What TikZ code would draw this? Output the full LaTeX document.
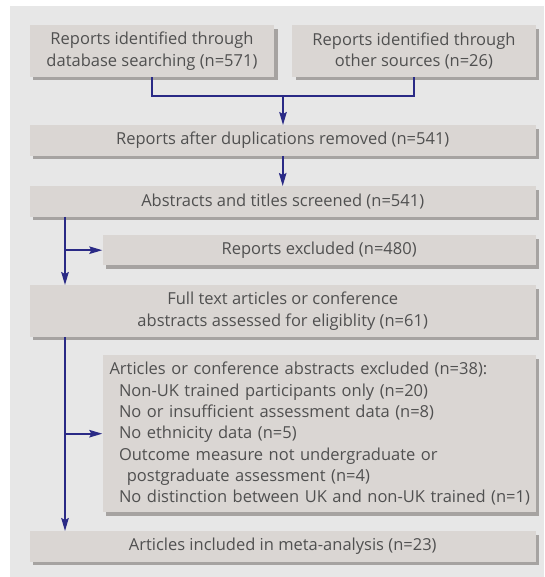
\documentclass[tikz,border=0pt]{standalone}
\usepackage{fontspec}
\setmainfont{Open Sans}
\usetikzlibrary{shadows,arrows.meta,calc}
\definecolor{bgc}{RGB}{231,231,231}
\definecolor{boxc}{RGB}{218,214,211}
\definecolor{shadc}{RGB}{166,163,161}
\definecolor{txtc}{RGB}{80,80,80}
\definecolor{arrc}{RGB}{42,42,134}
\tikzset{
  boxn/.style={rectangle, fill=boxc, text=txtc,
    font=\fontsize{16.5}{21.3}\selectfont, align=center, inner sep=0pt,
    anchor=north west,
    drop shadow={shadow xshift=3.5pt, shadow yshift=-3.5pt, fill=shadc, opacity=1}},
  conn/.style={draw=arrc, line width=1.6pt},
  arr/.style={conn, -{Stealth[length=13pt,width=7.5pt,inset=2pt]}},
}
\begin{document}
\begin{tikzpicture}[x=1pt,y=-1pt]
\useasboundingbox (0,0) rectangle (544,577);
\fill[bgc] (10.4,6) rectangle (544,577);

\node[boxn, minimum width=244.5pt, minimum height=51.7pt] (b1) at (29.5,25)
  {Reports identified through\\database searching (n=571)};
\node[boxn, minimum width=243.5pt, minimum height=51.7pt] (b2) at (292,25)
  {Reports identified through\\other sources (n=26)};
\node[boxn, minimum width=506pt, minimum height=30.5pt] (b3) at (29.5,125)
  {Reports after duplications removed (n=541)};
\node[boxn, minimum width=506pt, minimum height=30.5pt] (b4) at (29.5,186)
  {Abstracts and titles screened (n=541)};
\node[boxn, minimum width=433.2pt, minimum height=30pt] (b5) at (102.3,235)
  {Reports excluded (n=480)};
\node[boxn, minimum width=506pt, minimum height=51.7pt] (b6) at (29.5,285)
  {Full text articles or conference\\abstracts assessed for eligiblity (n=61)};
\node[boxn, minimum width=433.2pt, minimum height=157pt, align=left, text width=419.2pt] (b7) at (102.3,355)
  {\mbox{Articles or conference abstracts excluded (n=38):}\\
   \mbox{\hspace*{9.5pt}Non-UK trained participants only (n=20)}\\
   \mbox{\hspace*{9.5pt}No or insufficient assessment data (n=8)}\\
   \mbox{\hspace*{9.5pt}No ethnicity data (n=5)}\\
   \mbox{\hspace*{9.5pt}Outcome measure not undergraduate or}\\
   \mbox{\hspace*{17.3pt}postgraduate assessment (n=4)}\\
   \mbox{\hspace*{9.5pt}No distinction between UK and non-UK trained (n=1)}};
\node[boxn, minimum width=506pt, minimum height=30.7pt] (b8) at (29.5,531)
  {Articles included in meta-analysis (n=23)};

\coordinate (j) at (283,96);
\coordinate (s1) at (65,0);
\draw[conn] (b1.south) |- (j) -| (b2.south);
\draw[arr] (j) -- (j |- b3.north);
\draw[arr] (b3.south) -- (b4.north);
\draw[arr] (s1 |- b4.south) -- (s1 |- b6.north);
\draw[arr] (s1 |- b5.west) -- (b5.west);
\draw[arr] (s1 |- b6.south) -- (s1 |- b8.north);
\draw[arr] (s1 |- b7.west) -- (b7.west);
\end{tikzpicture}
\end{document}
